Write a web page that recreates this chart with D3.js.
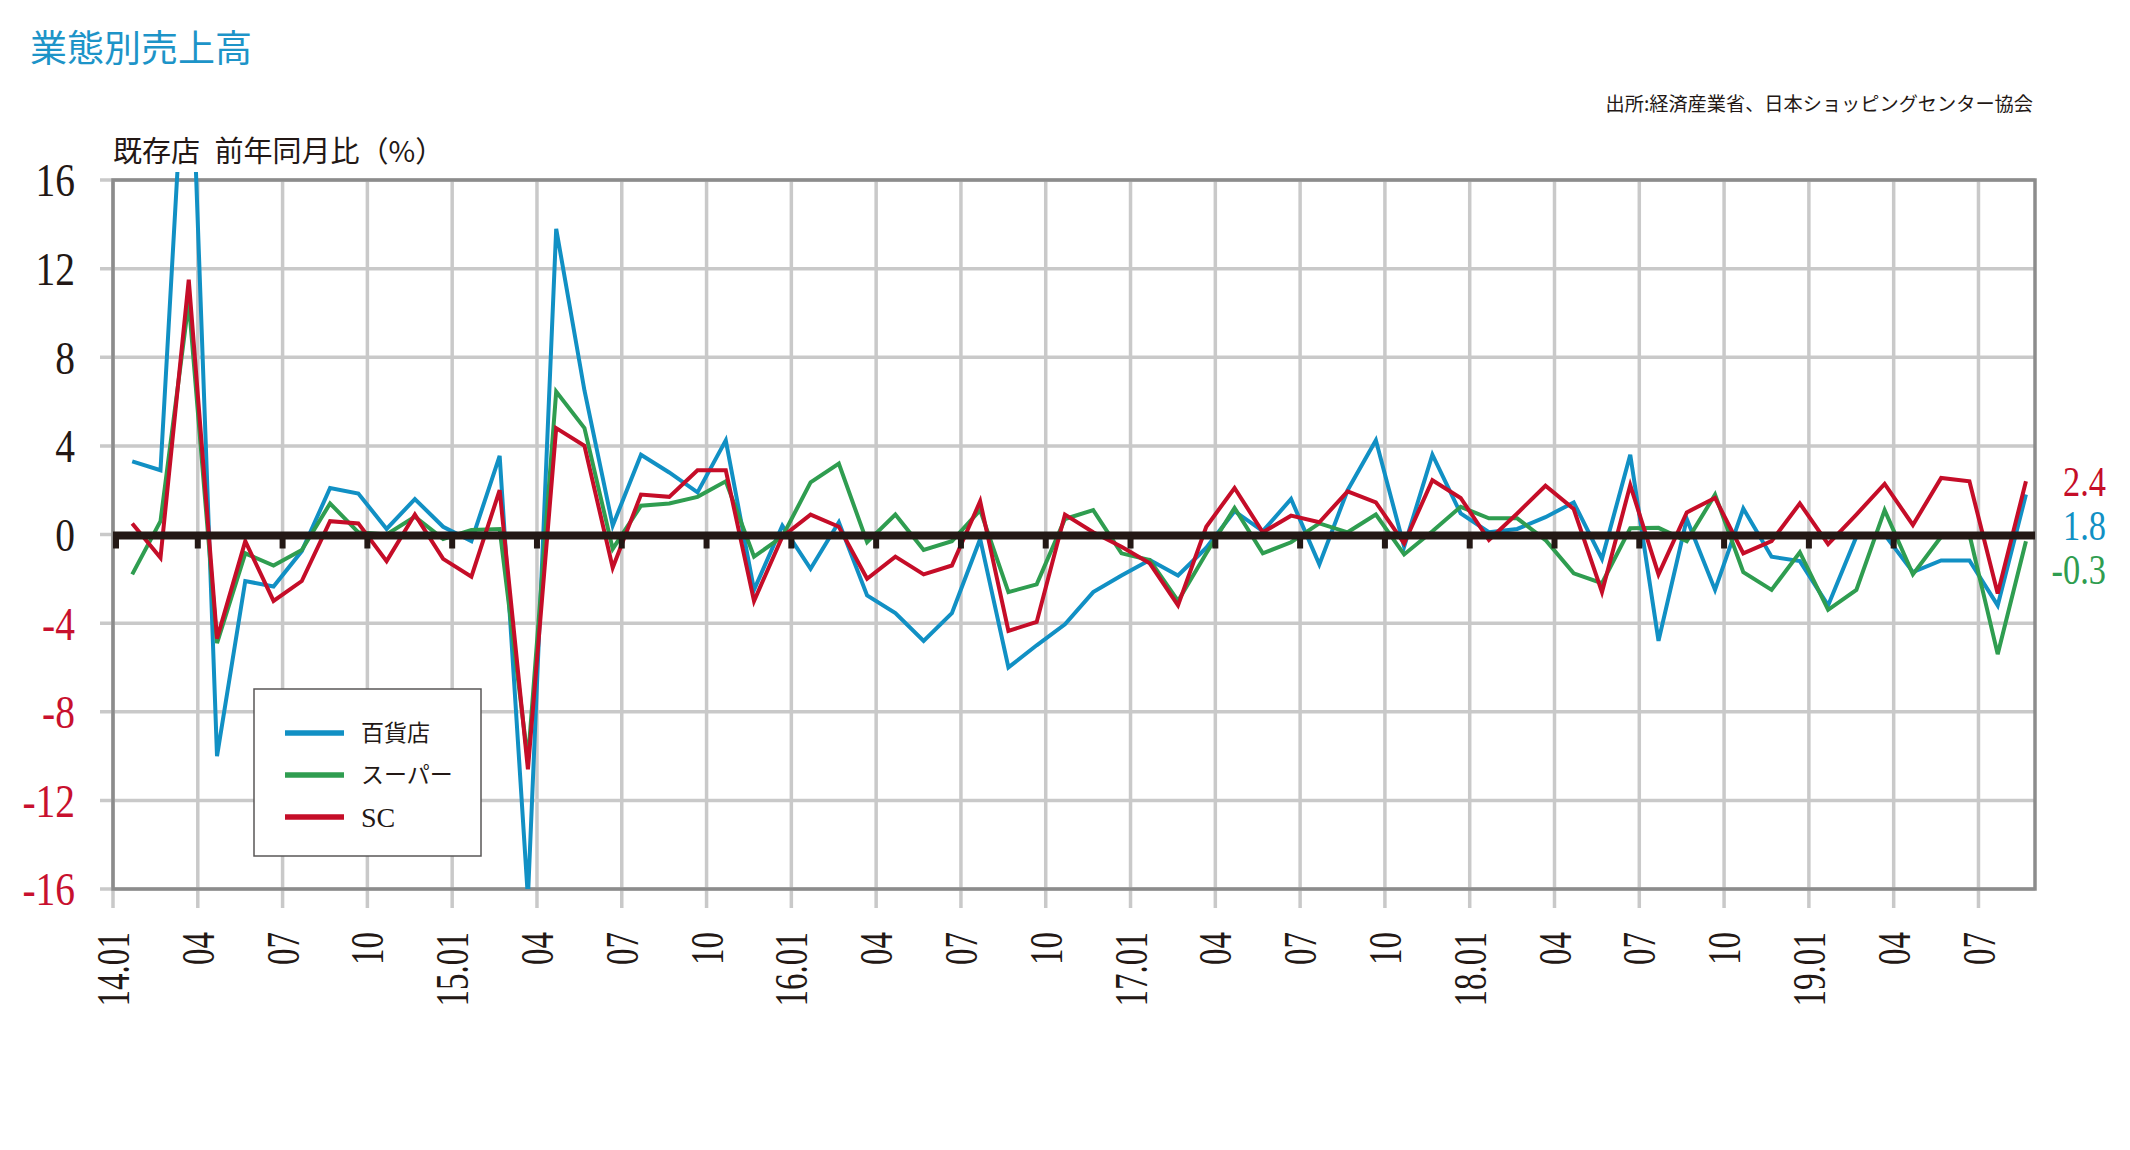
<!DOCTYPE html>
<html><head><meta charset="utf-8">
<script src="https://cdn.jsdelivr.net/npm/d3@7"></script>
<style>body{margin:0;background:#fff;} svg{display:block}</style>
</head><body><svg id="c" width="2130" height="1150"></svg>
<script>
// ---- data ----
const categories = [
 "14.01","14.02","14.03","14.04","14.05","14.06","14.07","14.08","14.09","14.10","14.11","14.12",
 "15.01","15.02","15.03","15.04","15.05","15.06","15.07","15.08","15.09","15.10","15.11","15.12",
 "16.01","16.02","16.03","16.04","16.05","16.06","16.07","16.08","16.09","16.10","16.11","16.12",
 "17.01","17.02","17.03","17.04","17.05","17.06","17.07","17.08","17.09","17.10","17.11","17.12",
 "18.01","18.02","18.03","18.04","18.05","18.06","18.07","18.08","18.09","18.10","18.11","18.12",
 "19.01","19.02","19.03","19.04","19.05","19.06","19.07","19.08"];
const deptStore = [
 3.3, 2.9, 25.4, -10.0, -2.1, -2.35, -0.75, 2.1, 1.85, 0.25, 1.6, 0.35,
 -0.3, 3.55, -16.4, 13.8, 6.5, 0.4, 3.6, 2.8, 1.9, 4.25, -2.5, 0.4,
 -1.55, 0.55, -2.75, -3.55, -4.8, -3.55, -0.2, -6.0, -5.0, -4.05, -2.6, -1.85,
 -1.15, -1.85, -0.6, 1.05, 0.15, 1.6, -1.35, 2.0, 4.25, -0.55, 3.6, 0.95,
 0.1, 0.25, 0.78, 1.45, -1.1, 3.6, -4.8, 0.7, -2.5, 1.17, -1.0, -1.2,
 -3.2, -0.1, 0.0, -1.7, -1.17, -1.17, -3.2, 1.8];
const supermarket = [
 -1.8, 0.6, 10.5, -4.9, -0.85, -1.4, -0.7, 1.4, 0.1, 0.0, 0.8, -0.2,
 0.2, 0.25, -10.2, 6.45, 4.8, -0.65, 1.3, 1.4, 1.7, 2.4, -1.0, -0.1,
 2.35, 3.2, -0.35, 0.9, -0.7, -0.3, 1.1, -2.6, -2.25, 0.7, 1.1, -0.85,
 -1.15, -3.0, -0.85, 1.2, -0.85, -0.35, 0.5, 0.1, 0.9, -0.9, 0.15, 1.25,
 0.73, 0.73, -0.25, -1.75, -2.2, 0.28, 0.3, -0.3, 1.8, -1.7, -2.5, -0.8,
 -3.4, -2.5, 1.1, -1.8, -0.1, 0.0, -5.4, -0.3];
const shoppingCenter = [
 0.5, -1.05, 11.5, -4.7, -0.3, -3.0, -2.1, 0.6, 0.5, -1.2, 0.9, -1.1,
 -1.9, 2.0, -10.6, 4.8, 4.0, -1.5, 1.8, 1.7, 2.9, 2.9, -3.0, -0.1,
 0.9, 0.35, -2.0, -1.0, -1.8, -1.4, 1.5, -4.35, -3.95, 0.9, 0.1, -0.55,
 -1.3, -3.2, 0.35, 2.1, 0.1, 0.85, 0.55, 1.95, 1.45, -0.4, 2.45, 1.65,
 -0.25, 0.95, 2.2, 1.15, -2.6, 2.23, -1.8, 1.0, 1.65, -0.85, -0.3, 1.4,
 -0.43, 0.9, 2.28, 0.43, 2.55, 2.4, -2.66, 2.4];
const seriesNames = ["百貨店", "スーパー", "SC"];
const seriesColors = ["#1190c4", "#2f9d50", "#c50d28"];
const yTickValues = [-16, -12, -8, -4, 0, 4, 8, 12, 16];
const xTickLabels = ["14.01","04","07","10","15.01","04","07","10","16.01","04","07","10",
                     "17.01","04","07","10","18.01","04","07","10","19.01","04","07"];
const titleText = "業態別売上高";
const subtitleText = "既存店\u2002前年同月比（%）";
const sourceText = "出所:経済産業省、日本ショッピングセンター協会";

// ---- drawing ----
const INK = "#231815", NEG = "#c8102e";
const svg = d3.select("#c");
const x = d3.scaleLinear().domain([0, 68]).range([113, 2035]);
const y = d3.scaleLinear().domain([-16, 16]).range([889, 180]);
const ptOffset = 0.68;
const series = [deptStore, supermarket, shoppingCenter];

svg.append("text").attr("x", 30).attr("y", 62).text(titleText)
  .attr("font-family", "'Noto Sans CJK JP'").attr("font-size", 37).attr("fill", "#1d94c8");
svg.append("text").attr("x", 113).attr("y", 162).text(subtitleText)
  .attr("font-family", "'Noto Sans CJK JP'").attr("font-size", 29).attr("fill", INK);
svg.append("text").attr("x", 2033).attr("y", 111).attr("text-anchor", "end").text(sourceText)
  .attr("font-family", "'Noto Sans CJK JP'").attr("font-size", 19.2).attr("fill", INK);

const clip = svg.append("defs").append("clipPath").attr("id", "plotclip");
clip.append("rect").attr("x", 113).attr("y", 172).attr("width", 1922).attr("height", 717);

// grid
const grid = svg.append("g").attr("stroke", "#c9c9c9").attr("stroke-width", 3.5);
yTickValues.forEach(v => grid.append("line").attr("x1", 100).attr("x2", x(68)).attr("y1", y(v)).attr("y2", y(v)));
xTickLabels.forEach((l, k) => grid.append("line").attr("x1", x(3 * k)).attr("x2", x(3 * k)).attr("y1", y(16)).attr("y2", 908));

// border
svg.append("rect").attr("x", x(0)).attr("y", y(16)).attr("width", x(68) - x(0)).attr("height", y(-16) - y(16))
  .attr("fill", "none").attr("stroke", "#8c8c8c").attr("stroke-width", 3.5);

// legend box (white, under lines)
const lg = svg.append("g");
lg.append("rect").attr("x", 254).attr("y", 689).attr("width", 227).attr("height", 167)
  .attr("fill", "#fff").attr("stroke", "#595757").attr("stroke-width", 1.5);

// series lines
const line = d3.line().x((d, i) => x(i + ptOffset)).y(d => y(d));
const lines = svg.append("g").attr("clip-path", "url(#plotclip)");
series.forEach((s, j) => lines.append("path").datum(s).attr("d", line)
  .attr("fill", "none").attr("stroke", seriesColors[j]).attr("stroke-width", 4)
  .attr("stroke-linejoin", "miter").attr("stroke-miterlimit", 4));

// zero line + ticks
svg.append("line").attr("x1", x(0)).attr("x2", x(68)).attr("y1", y(0) + 1).attr("y2", y(0) + 1)
  .attr("stroke", INK).attr("stroke-width", 8);
xTickLabels.forEach((l, k) => { if (3 * k <= 63) svg.append("rect").attr("x", x(3 * k) - 3 + (k === 0 ? 3 : 0)).attr("y", y(0) + 4)
  .attr("width", 6).attr("height", 10).attr("fill", INK); });

// y labels
yTickValues.forEach(v => svg.append("text")
  .attr("transform", `translate(75,${y(v)}) scale(0.84,1)`)
  .attr("text-anchor", "end").attr("dy", "0.35em")
  .attr("font-family", "'Liberation Serif'").attr("font-size", 47)
  .attr("fill", v < 0 ? NEG : INK).text(v));

// x labels
xTickLabels.forEach((l, k) => svg.append("text")
  .attr("transform", `translate(${x(3 * k)},932) rotate(-90) scale(0.72,1)`)
  .attr("text-anchor", "end").attr("dy", "0.35em")
  .attr("font-family", "'Liberation Serif'").attr("font-size", 46)
  .attr("fill", INK).text(l));

// legend entries
seriesNames.forEach((n, j) => {
  const yy = 733 + j * 42;
  lg.append("line").attr("x1", 285).attr("x2", 344).attr("y1", yy).attr("y2", yy)
    .attr("stroke", seriesColors[j]).attr("stroke-width", 5.5);
  lg.append("text").attr("x", 361).attr("y", yy).attr("dy", "0.36em").text(n)
    .attr("font-family", n === "SC" ? "'Liberation Serif'" : "'Noto Sans CJK JP'")
    .attr("font-size", n === "SC" ? 28 : 23).attr("fill", INK);
});

// end value labels (stacked: SC, 百貨店, スーパー)
const endOrder = [2, 0, 1];
const fmt = v => d3.format(".1f")(v).replace("\u2212", "-");
endOrder.forEach((j, r) => {
  const s = series[j];
  svg.append("text")
    .attr("transform", `translate(2106,${y(shoppingCenter[shoppingCenter.length - 1]) + r * 44}) scale(0.8,1)`)
    .attr("text-anchor", "end").attr("dy", "0.35em")
    .attr("font-family", "'Liberation Serif'").attr("font-size", 43)
    .attr("fill", seriesColors[j]).text(fmt(s[s.length - 1]));
});
</script></body></html>
